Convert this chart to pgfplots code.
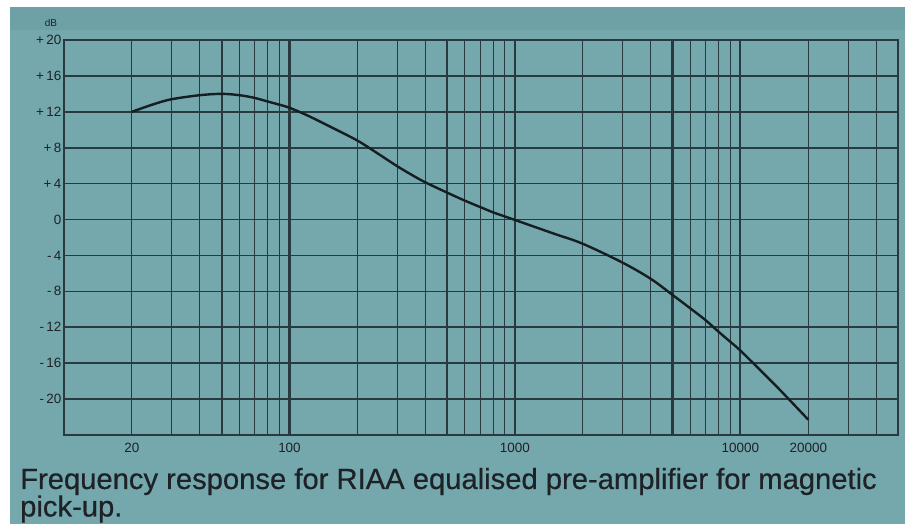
\documentclass[border=0pt]{standalone}
\usepackage{fontspec}
\setmainfont{Liberation Sans}
\newfontfamily\capfont[FakeBold=0.5]{Liberation Sans}
\usepackage{pgfplots}
\pgfplotsset{compat=1.18}
\definecolor{bg}{RGB}{116,168,173}
\definecolor{bgtop}{RGB}{110,161,166}
\definecolor{ink}{RGB}{22,30,34}
\definecolor{gridc}{RGB}{40,58,64}
\definecolor{txt}{RGB}{30,34,38}
\begin{document}
\begin{tikzpicture}[x=1bp,y=1bp]
\useasboundingbox (0,0) rectangle (905,524);
\fill[white] (0,0) rectangle (905,524);
\fill[bg] (10,0) rectangle (905,517);
\fill[bgtop] (10,494) rectangle (905,517);
\begin{axis}[
  at={(64bp,89bp)}, anchor=south west,
  scale only axis, width=834bp, height=395bp,
  xmode=log, log basis x=10,
  xmin=10, xmax=50000, ymin=-24, ymax=20,
  axis line style={gridc, line width=1.4bp},
  xtick={20,100,1000,10000,20000},
  xticklabels={20,100,1000,10000,20000},
  minor xtick={30,40,50,60,70,80,90,200,300,400,500,600,700,800,900,2000,3000,4000,5000,6000,7000,8000,9000,30000,40000},
  ytick={-20,-16,-12,-8,-4,0,4,8,12,16,20},
  yticklabels={-\,20,-\,16,-\,12,-\,8,-\,4,0,+\,4,+\,8,+\,12,+\,16,+\,20},
  grid=both,
  major grid style={gridc, line width=1.0bp},
  minor grid style={gridc, line width=1.0bp},
  y grid style={gridc, line width=1.7bp},
  extra x ticks={50,100,500,1000,5000,10000},
  extra x tick labels={},
  extra x tick style={grid=major, major x grid style={gridc, line width=2.1bp}},
  tick style={draw=none},
  major tick length=0pt, minor tick length=0pt,
  /pgf/number format/assume math mode=true,
  tick label style={font=\fontsize{13.5}{14}\selectfont, text=txt, inner sep=0pt},
  xticklabel style={yshift=-8.3bp},
  yticklabel style={xshift=-2.5bp},
  clip=false,
]
\addplot[ink, line width=2.4bp, smooth, tension=0.55] coordinates {
(20,12.0) (25,12.85) (30,13.4) (40,13.85) (50,14.0) (60,13.85) (70,13.55)
(80,13.15) (90,12.8) (100,12.45) (120,11.6) (150,10.4) (200,8.8) (250,7.25)
(300,5.95) (350,4.95) (400,4.15) (500,3.0) (600,2.1) (700,1.4) (800,0.8) (900,0.35)
(1000,-0.05) (1500,-1.6) (2000,-2.7) (3000,-4.8) (4000,-6.6) (5000,-8.4)
(6000,-9.9) (7000,-11.2) (8000,-12.5) (9000,-13.6) (10000,-14.6)
(12500,-17.0) (15000,-19.0) (20000,-22.3)
};
\node[font=\fontsize{10}{10}\selectfont, text=txt] at ([xshift=-13bp,yshift=17.5bp]rel axis cs:0,1) {dB};
\end{axis}
\node[anchor=base west, inner sep=0pt, font=\capfont\fontsize{29.3}{29}\selectfont, text=txt] at (20,35) {Frequency response for RIAA equalised pre-amplifier for magnetic};
\node[anchor=base west, inner sep=0pt, font=\capfont\fontsize{29.3}{29}\selectfont, text=txt] at (20,7.5) {pick-up.};
\end{tikzpicture}
\end{document}
